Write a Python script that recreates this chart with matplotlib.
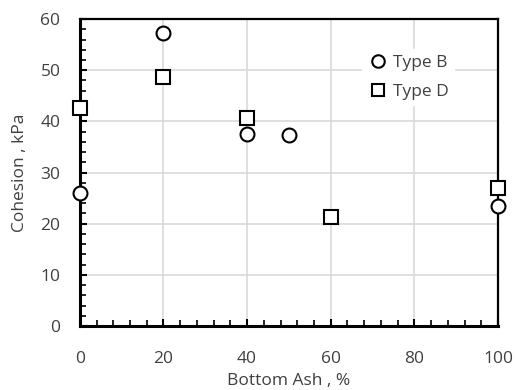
import numpy as np
import matplotlib.pyplot as plt
from matplotlib.ticker import MultipleLocator

# Data
ash_b = [0, 20, 40, 50, 100]
coh_b = [26.0, 57.2, 37.5, 37.4, 23.5]
ash_d = [0, 20, 40, 60, 100]
coh_d = [42.7, 48.6, 40.6, 21.4, 27.0]

plt.rcParams['font.family'] = ['Open Sans', 'DejaVu Sans']
txt = '#404040'
fs = 12.5

fig = plt.figure(figsize=(5.15, 3.9), dpi=100)
ax = fig.add_axes([0.155, 0.164, 0.812, 0.787])

ax.plot(ash_b, coh_b, 'o', ms=10, mfc='white', mec='black', mew=1.5,
        ls='none', label='Type B', clip_on=False, zorder=5)
ax.plot(ash_d, coh_d, 's', ms=10, mfc='white', mec='black', mew=1.5,
        ls='none', label='Type D', clip_on=False, zorder=5)

ax.set_xlim(0, 100)
ax.set_ylim(0, 60)
ax.xaxis.set_major_locator(MultipleLocator(20))
ax.xaxis.set_minor_locator(MultipleLocator(4))
ax.yaxis.set_major_locator(MultipleLocator(10))
ax.yaxis.set_minor_locator(MultipleLocator(2))
ax.grid(True, which='major', color='#d9d9d9', lw=1.2)
ax.set_axisbelow(True)

ax.tick_params(which='both', direction='in', colors='black', labelcolor=txt,
               labelsize=fs)
ax.tick_params(which='major', length=5, width=1.5)
ax.tick_params(which='minor', length=4, width=1.2)
ax.tick_params(axis='x', which='major', pad=18)
ax.tick_params(axis='y', which='major', pad=14)

for s in ['left', 'bottom']:
    ax.spines[s].set_linewidth(2.2)
for s in ['top', 'right']:
    ax.spines[s].set_linewidth(1.6)

ax.set_xlabel('Bottom Ash , %', color=txt, fontsize=fs, labelpad=4)
ax.set_ylabel('Cohesion , kPa', color=txt, fontsize=fs, labelpad=9)

leg = ax.legend(loc='upper left', bbox_to_anchor=(0.655, 0.93), frameon=True,
                fontsize=fs, handletextpad=0.25, labelspacing=0.75,
                borderpad=0.3, markerscale=0.9, handlelength=1.2)
leg.get_frame().set_edgecolor('white')
leg.get_frame().set_facecolor('white')
leg.get_frame().set_alpha(1)
leg.get_frame().set_boxstyle('square', pad=0)
for t in leg.get_texts():
    t.set_color(txt)

fig.savefig('out.png', dpi=100)
